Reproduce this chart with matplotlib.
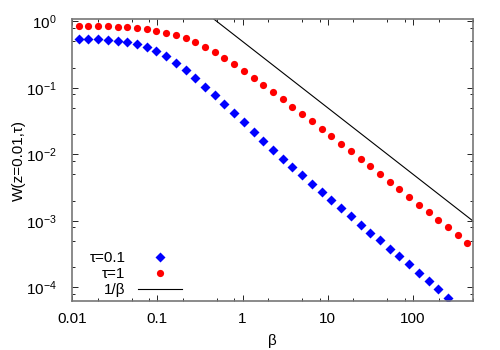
import matplotlib
matplotlib.use('Agg')
import matplotlib.pyplot as plt
from matplotlib.ticker import LogLocator, FixedLocator, FixedFormatter, NullFormatter

plt.rcParams['font.family'] = ['Liberation Sans', 'DejaVu Sans']
plt.rcParams['font.size'] = 11

beta = [0.012, 0.0156, 0.0203, 0.0264, 0.0343, 0.0446, 0.0579, 0.0753, 0.0979,
        0.127, 0.165, 0.215, 0.280, 0.363, 0.472, 0.614, 0.799, 1.04, 1.35,
        1.75, 2.28, 2.96, 3.85, 5.01, 6.51, 8.47, 11.0, 14.3, 18.6, 24.2,
        31.4, 40.9, 53.1, 69.1, 89.8, 117, 152, 197, 256, 333, 433]

# W(z=0.01, tau=1)  red circles
w_tau1 = [0.849, 0.849, 0.849, 0.849, 0.837, 0.829, 0.809, 0.773, 0.729, 0.680,
          0.628, 0.566, 0.493, 0.414, 0.348, 0.280, 0.230, 0.182, 0.143, 0.111,
          0.0871, 0.0676, 0.0523, 0.0406, 0.0319, 0.0244, 0.0190, 0.0145,
          0.01115, 0.00846, 0.00663, 0.00507, 0.00389, 0.00299, 0.00229,
          0.00175, 0.00136, 0.00104, 0.000809, 0.000613, 0.000464]

# W(z=0.01, tau=0.1)  blue diamonds (last points fall below the plot)
w_tau01 = [0.541, 0.541, 0.541, 0.528, 0.510, 0.493, 0.465, 0.414, 0.3605, 0.300,
           0.240, 0.1886, 0.143, 0.1047, 0.0777, 0.0568, 0.0413, 0.0303, 0.0219,
           0.0161, 0.01167, 0.00863, 0.00643, 0.00482, 0.00361, 0.00274, 0.00208,
           0.00155, 0.00116, 0.000877, 0.000664, 0.000510, 0.000381, 0.000293,
           0.000222, 0.000166, 0.0001245, 0.0000933, 0.0000685]

# reference line labelled 1/beta
line_beta = [0.01, 500]
line_w = [50.0, 0.001]

xticks = [0.01, 0.1, 1, 10, 100]
xtick_labels = ['0.01', '0.1', '1', '10', '100']

fig = plt.figure(figsize=(5, 3.5), dpi=100)
ax = fig.add_axes([0.144, 0.14, 0.8014, 0.8043])

ax.plot(beta[:len(w_tau01)], w_tau01, linestyle='none', marker='D', ms=5.3,
        color='#0000ff', mec='none', label=r'τ=0.1')
ax.plot(beta, w_tau1, linestyle='none', marker='o', ms=5.2,
        color='#ff0000', mec='none', label=r'τ=1')
ax.plot(line_beta, line_w, color='black', lw=0.8, label='1/β')

ax.set_xscale('log')
ax.set_yscale('log')
ax.set_xlim(0.01, 500)
ax.set_ylim(6.2e-5, 1.07)

ax.xaxis.set_major_locator(FixedLocator(xticks))
ax.xaxis.set_major_formatter(FixedFormatter(xtick_labels))
ax.xaxis.set_minor_locator(LogLocator(base=10, subs=[2, 5, 8], numticks=20))
ax.xaxis.set_minor_formatter(NullFormatter())
ax.yaxis.set_major_locator(LogLocator(base=10, numticks=20))
ax.yaxis.set_minor_locator(LogLocator(base=10, subs=[2, 5, 8], numticks=20))
ax.yaxis.set_minor_formatter(NullFormatter())

ax.tick_params(which='both', direction='in', top=True, right=True, color='black', width=0.6)
ax.tick_params(which='major', length=4.5, labelsize=11)
ax.tick_params(axis='x', which='major', pad=8)
ax.tick_params(axis='y', which='major', pad=11)
ax.tick_params(which='minor', length=2.2)
for s in ax.spines.values():
    s.set_color('#777777')
    s.set_linewidth(1.2)

ax.set_xlabel('β', labelpad=6)
ax.set_ylabel('W(z=0.01,τ)', labelpad=0)

ax.legend(loc='lower right', bbox_to_anchor=(0.275, 0.014), frameon=False,
          markerfirst=False, handlelength=2.9, handletextpad=0.8,
          labelspacing=0.12, borderpad=0, borderaxespad=0, numpoints=1)

fig.savefig('out.png', dpi=100)
